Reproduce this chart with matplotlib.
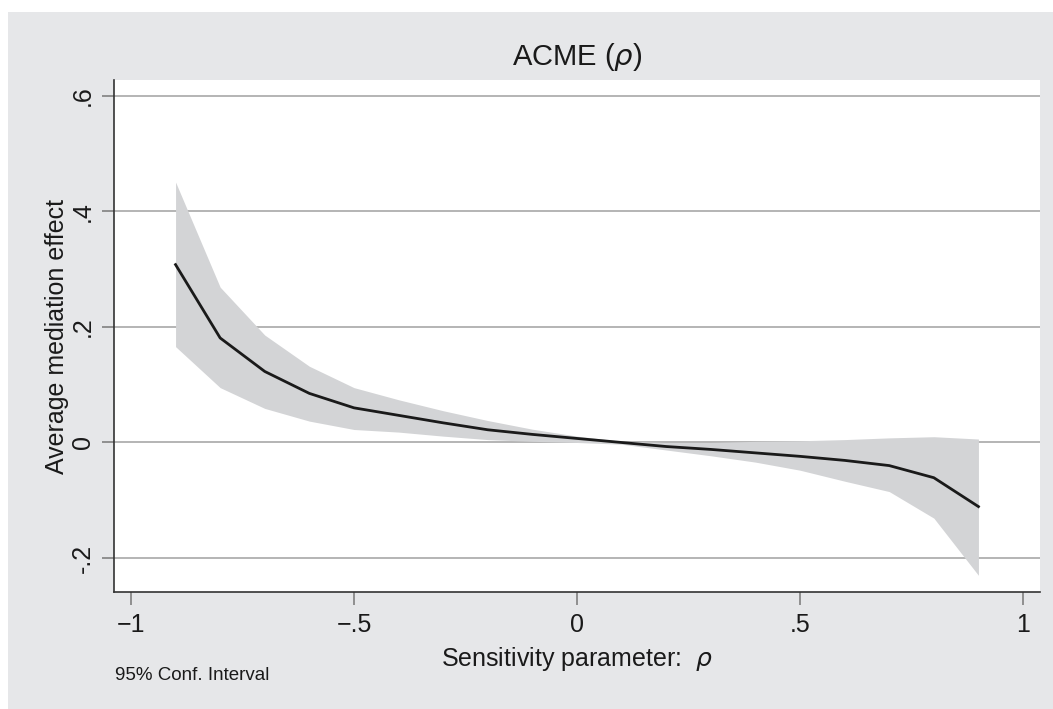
import matplotlib
matplotlib.use("Agg")
import matplotlib.pyplot as plt
from matplotlib.patches import Rectangle

rho = [-0.9, -0.8, -0.7, -0.6, -0.5, -0.4, -0.3, -0.2, -0.1, 0.0,
       0.1, 0.2, 0.3, 0.4, 0.5, 0.6, 0.7, 0.8, 0.9]
acme = [0.308, 0.181, 0.123, 0.085, 0.060, 0.047, 0.034, 0.022, 0.014, 0.007,
        0.000, -0.007, -0.012, -0.018, -0.024, -0.031, -0.040, -0.061, -0.111]
upper = [0.451, 0.269, 0.186, 0.132, 0.095, 0.074, 0.055, 0.038, 0.023, 0.011,
         0.002, 0.000, 0.000, 0.002, 0.003, 0.005, 0.008, 0.010, 0.006]
lower = [0.166, 0.095, 0.059, 0.037, 0.0225, 0.018, 0.011, 0.005, 0.002, 0.000,
         -0.003, -0.013, -0.023, -0.034, -0.048, -0.067, -0.085, -0.131, -0.230]

xticks = [-1, -0.5, 0, 0.5, 1]
xticklabels = ["\u22121", "\u2212.5", "0", ".5", "1"]
yticks = [-0.2, 0, 0.2, 0.4, 0.6]
yticklabels = ["-.2", "0", ".2", ".4", ".6"]

W, H = 1053, 709
fig = plt.figure(figsize=(W / 100, H / 100), dpi=100, facecolor="white")
plt.rcParams['font.family'] = ['Liberation Sans', 'DejaVu Sans']

bg = "#e6e7e9"
fig.patches.append(Rectangle((8 / W, 0), 1 - 8 / W, 1 - 12 / H,
                             transform=fig.transFigure, facecolor=bg,
                             edgecolor="none", zorder=-10))

L, R, T, B = 114, 1040, 80, 592
ax = fig.add_axes([L / W, 1 - B / H, (R - L) / W, (B - T) / H])
ax.set_facecolor("white")

ax.fill_between(rho, lower, upper, color="#d3d4d6", linewidth=0, zorder=2)
ax.plot(rho, acme, color="#1a1a1a", linewidth=2.0, zorder=3)

ax.set_xlim(-1.038, 1.038)
ax.set_ylim(-0.2589, 0.6277)

for yv in yticks:
    ax.axhline(yv, color="#b4b4b4", linewidth=1.4, zorder=1)

ax.set_xticks(xticks)
ax.set_xticklabels(xticklabels, fontsize=18)
ax.set_yticks(yticks)
ax.set_yticklabels(yticklabels, fontsize=18, rotation=90, va="center")
ax.tick_params(axis="both", direction="out", length=9, width=1.2,
               color="#808080", labelcolor="#1a1a1a", pad=6)
ax.tick_params(axis="y", pad=5)

for s in ["top", "right"]:
    ax.spines[s].set_visible(False)
for s in ["left", "bottom"]:
    ax.spines[s].set_color("#333333")
    ax.spines[s].set_linewidth(1.2)

ax.set_xlabel("Sensitivity parameter:  $\\rho$", fontsize=18, color="#1a1a1a", labelpad=6)
ax.set_ylabel("Average mediation effect", fontsize=18, color="#1a1a1a", labelpad=1)

fig.text(577 / W, 1 - 57 / H, "ACME ($\\rho$)", fontsize=21, ha="center", va="center",
         color="#1a1a1a")
fig.text(115 / W, 1 - 676 / H, "95% Conf. Interval", fontsize=13.5, ha="left",
         va="center", color="#1a1a1a")

fig.savefig("out.png", dpi=100, facecolor=fig.get_facecolor())
